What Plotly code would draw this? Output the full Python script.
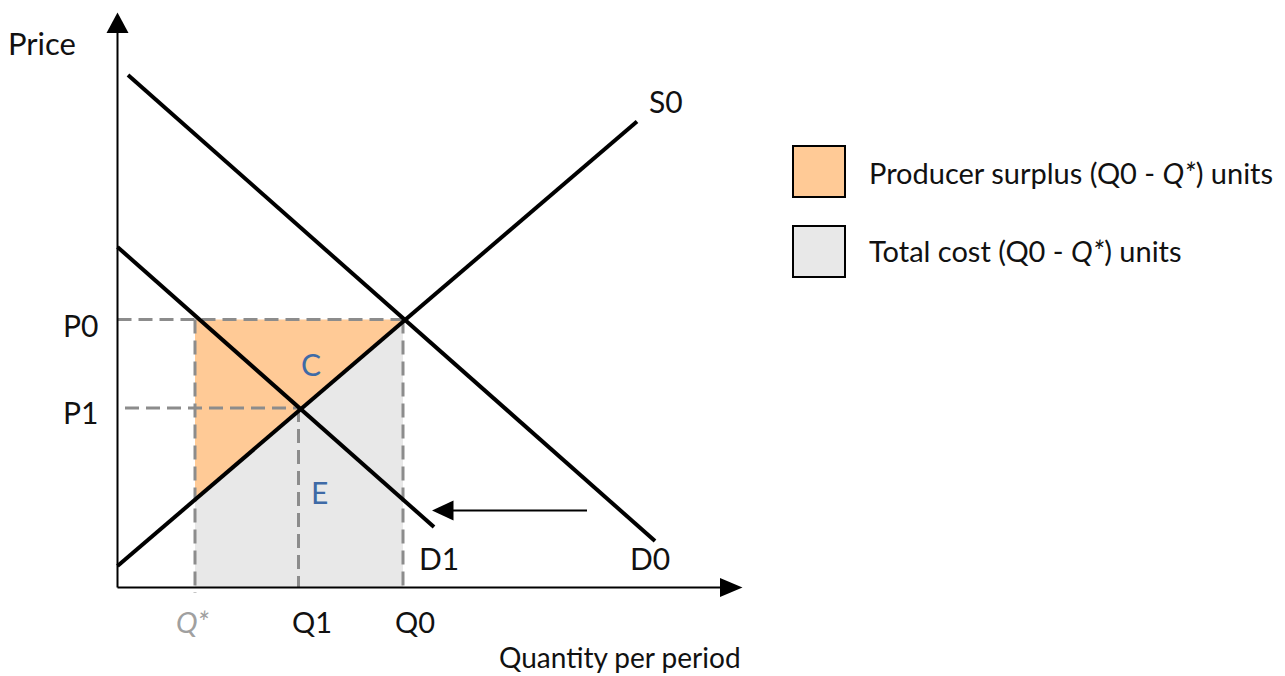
import numpy as np
import plotly.graph_objects as go

# ---- data (quantity, price units) ----
Q_STAR, Q1, Q0 = 7.75, 18.1, 28.55
P0, P1 = 26.8, 17.95
S0_Q = [0.0, 51.95]
S0_P = [2.15, 46.6]
D0_Q = [1.05, 53.75]
D0_P = [51.25, 4.65]
D1_Q = [0.0, 31.65]
D1_P = [34.05, 6.05]
SHIFT_Q = [46.95, 33.4]
SHIFT_P = [7.7, 7.7]
X_AXIS_END, Y_AXIS_END = 62.5, 57.5
X_TICKS = [Q_STAR, Q1, Q0]
X_TICK_LABELS = ["<i>Q*</i>", "Q1", "Q0"]
Y_TICKS = [P0, P1]
Y_TICK_LABELS = ["P0", "P1"]
LEGEND_LABELS = ["Producer surplus (Q0 - <i>Q*</i>) units", "Total cost (Q0 - <i>Q*</i>) units"]

ORANGE = "#FFCA96"
GREY_FILL = "#E8E8E8"
DASH_C = "#8C8C8C"
TXT = "#111111"
BLUE = "#3E6AA6"
FONT = "Lato"

s_at_qstar = float(np.interp(Q_STAR, S0_Q, S0_P))

fig = go.Figure()

# Total cost region
fig.add_trace(go.Scatter(
    x=[Q_STAR, Q_STAR, Q0, Q0], y=[0, s_at_qstar, P0, 0],
    fill="toself", fillcolor=GREY_FILL, line=dict(width=0), mode="lines",
    hoverinfo="skip", showlegend=False))
# Producer surplus region
fig.add_trace(go.Scatter(
    x=[Q_STAR, Q_STAR, Q0], y=[s_at_qstar, P0, P0],
    fill="toself", fillcolor=ORANGE, line=dict(width=0), mode="lines",
    hoverinfo="skip", showlegend=False))

dash = dict(color=DASH_C, width=3, dash="14px,7px")
# dashed guides
fig.add_trace(go.Scatter(x=[0, Q0], y=[P0, P0], mode="lines", line=dash, showlegend=False, hoverinfo="skip"))
fig.add_trace(go.Scatter(x=[0.75, Q1], y=[P1, P1], mode="lines", line=dash, showlegend=False, hoverinfo="skip"))
fig.add_trace(go.Scatter(x=[Q_STAR, Q_STAR], y=[P0, -0.55], mode="lines", line=dash, showlegend=False, hoverinfo="skip"))
fig.add_trace(go.Scatter(x=[Q1, Q1], y=[P1, 0], mode="lines", line=dash, showlegend=False, hoverinfo="skip"))
fig.add_trace(go.Scatter(x=[Q0, Q0], y=[P0, 0], mode="lines", line=dash, showlegend=False, hoverinfo="skip"))

# curves
for qx, py in [(S0_Q, S0_P), (D0_Q, D0_P), (D1_Q, D1_P)]:
    fig.add_trace(go.Scatter(x=qx, y=py, mode="lines", line=dict(color="black", width=4),
                             showlegend=False, hoverinfo="skip"))
# shift arrow line
fig.add_trace(go.Scatter(x=SHIFT_Q, y=SHIFT_P, mode="lines", line=dict(color="black", width=2),
                         showlegend=False, hoverinfo="skip"))

shapes = []
# axes
shapes.append(dict(type="line", x0=0, y0=0, x1=X_AXIS_END - 2, y1=0, line=dict(color="black", width=2)))
shapes.append(dict(type="line", x0=0, y0=0, x1=0, y1=Y_AXIS_END - 2, line=dict(color="black", width=2)))
# arrowheads
shapes.append(dict(type="path", path=f"M {X_AXIS_END},0 L {X_AXIS_END-2.25},0.95 L {X_AXIS_END-2.25},-0.95 Z",
                   fillcolor="black", line=dict(width=0)))
shapes.append(dict(type="path", path=f"M 0,{Y_AXIS_END} L -1.1,{Y_AXIS_END-2.05} L 1.1,{Y_AXIS_END-2.05} Z",
                   fillcolor="black", line=dict(width=0)))
tipx = SHIFT_Q[1] - 1.95
shapes.append(dict(type="path", path=f"M {tipx},{SHIFT_P[0]} L {SHIFT_Q[1]+0.2},{SHIFT_P[0]+1.0} L {SHIFT_Q[1]+0.2},{SHIFT_P[0]-1.0} Z",
                   fillcolor="black", line=dict(width=0)))
# legend boxes
for (y0, y1), col in zip([(39.05, 44.15), (31.05, 36.15)], [ORANGE, GREY_FILL]):
    shapes.append(dict(type="rect", x0=67.55, x1=72.75, y0=y0, y1=y1, fillcolor=col,
                       line=dict(color="black", width=2)))

ann = []
def label(x, y, text, color=TXT, size=30, xanchor="center", yanchor="middle"):
    ann.append(dict(x=x, y=y, text=text, showarrow=False, xanchor=xanchor, yanchor=yanchor,
                    font=dict(family=FONT, size=size, color=color)))

label(-7.55, 54.45, "Price", size=31)
label(-1.75, Y_TICKS[0] - 0.5, Y_TICK_LABELS[0], xanchor="right")
label(-1.75, Y_TICKS[1] - 0.35, Y_TICK_LABELS[1], xanchor="right")
for xv, t, c, dx in zip(X_TICKS, X_TICK_LABELS, ["#A0A0A0", TXT, TXT], [-0.3, 1.3, 1.15]):
    label(xv + dx, -3.35, t, color=c, size=29)
label(62.55, -8.85, "Quantity per period", xanchor="right", yanchor="bottom", size=28)
label(54.85, 48.65, "S0")
label(32.15, 2.95, "D1")
label(53.25, 2.95, "D0")
label(19.35, 22.35, "C", color=BLUE)
label(20.2, 9.55, "E", color=BLUE)
label(74.95, 41.55, LEGEND_LABELS[0], size=29, xanchor="left")
label(74.95, 33.75, LEGEND_LABELS[1], size=29, xanchor="left")

fig.update_layout(
    width=1285, height=676, margin=dict(l=0, r=0, t=0, b=0),
    paper_bgcolor="white", plot_bgcolor="white",
    xaxis=dict(range=[-11.75, 116.75], visible=False, fixedrange=True),
    yaxis=dict(range=[-8.85, 58.75], visible=False, fixedrange=True),
    shapes=shapes, annotations=ann, showlegend=False,
)
fig.write_html("out.html", config={"displayModeBar": False},
               post_script="document.body.style.margin='0';document.body.style.overflow='hidden';")
